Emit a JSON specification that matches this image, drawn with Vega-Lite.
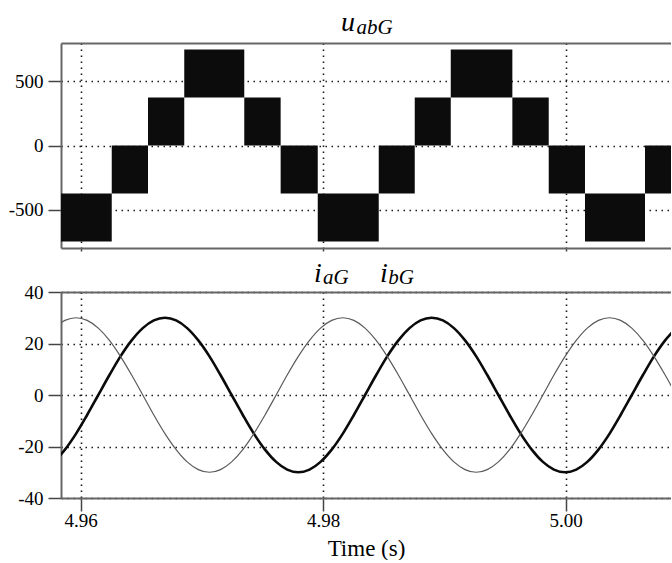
{
  "$schema": "https://vega.github.io/schema/vega-lite/v6.json",
  "padding": {"left": 8, "top": 9, "right": 0, "bottom": 0},
  "background": "white",
  "bounds": "flush",
  "spacing": 44,
  "config": {
    "view": {"stroke": null},
    "axis": {
      "domainColor": "#666666",
      "domainWidth": 2,
      "tickColor": "#444444",
      "tickWidth": 1.5,
      "gridColor": "#1a1a1a",
      "gridDash": [1.5, 4.5],
      "gridWidth": 1.6,
      "gridOpacity": 1,
      "labelFont": "Liberation Serif",
      "labelFontSize": 19,
      "labelColor": "#000000",
      "titleFont": "Liberation Serif",
      "titleFontWeight": "normal",
      "titleColor": "#000000"
    }
  },
  "vconcat": [
    {
      "width": 610,
      "height": 205,
      "resolve": {"axis": {"x": "independent", "y": "independent"}},
      "layer": [
        {
          "data": {"values": [
            {"t0": 4.958375, "t1": 4.96256, "lo": -750, "hi": -375},
            {"t0": 4.96256, "t1": 4.96555, "lo": -375, "hi": 0},
            {"t0": 4.96555, "t1": 4.96854, "lo": 0, "hi": 375},
            {"t0": 4.96854, "t1": 4.97349, "lo": 375, "hi": 750},
            {"t0": 4.97349, "t1": 4.97649, "lo": 0, "hi": 375},
            {"t0": 4.97649, "t1": 4.97955, "lo": -375, "hi": 0},
            {"t0": 4.97955, "t1": 4.98458, "lo": -750, "hi": -375},
            {"t0": 4.98458, "t1": 4.98755, "lo": -375, "hi": 0},
            {"t0": 4.98755, "t1": 4.99052, "lo": 0, "hi": 375},
            {"t0": 4.99052, "t1": 4.9956, "lo": 375, "hi": 750},
            {"t0": 4.9956, "t1": 4.9986, "lo": 0, "hi": 375},
            {"t0": 4.9986, "t1": 5.00159, "lo": -375, "hi": 0},
            {"t0": 5.00159, "t1": 5.00654, "lo": -750, "hi": -375},
            {"t0": 5.00654, "t1": 5.008684, "lo": -375, "hi": 0}
          ]},
          "mark": {"type": "rect", "color": "#0c0c0c", "clip": true},
          "encoding": {
            "x": {"field": "t0", "type": "quantitative",
              "scale": {"domain": [4.958375, 5.008684], "nice": false, "zero": false},
              "axis": {"orient": "bottom", "values": [4.96, 4.98, 5.0], "labels": false, "ticks": true, "tickSize": 3, "grid": true, "domain": true, "title": null}},
            "x2": {"field": "t1"},
            "y": {"field": "lo", "type": "quantitative",
              "scale": {"domain": [-800, 800], "nice": false, "zero": false},
              "axis": {"orient": "left", "values": [-500, 0, 500], "tickSize": 13, "labelPadding": 5, "grid": true, "domain": true, "title": null,
                "labelExpr": "datum.value < 0 ? '-' + abs(datum.value) : '' + datum.value"}},
            "y2": {"field": "hi"}
          }
        },
        {
          "data": {"values": [{"t": 4.98147, "v": 800, "label": "u"}]},
          "mark": {"type": "text", "font": "Liberation Serif", "fontStyle": "italic", "fontSize": 28, "align": "left", "baseline": "alphabetic", "dy": -12, "color": "#000000"},
          "encoding": {
            "x": {"field": "t", "type": "quantitative",
              "axis": {"orient": "top", "labels": false, "ticks": false, "grid": false, "domain": true, "title": null}},
            "y": {"field": "v", "type": "quantitative", "axis": null},
            "text": {"field": "label"}
          }
        },
        {
          "data": {"values": [{"t": 4.98275, "v": 800, "label": "abG"}]},
          "mark": {"type": "text", "font": "Liberation Serif", "fontStyle": "italic", "fontSize": 21, "align": "left", "baseline": "alphabetic", "dy": -9, "color": "#000000"},
          "encoding": {
            "x": {"field": "t", "type": "quantitative", "axis": null},
            "y": {"field": "v", "type": "quantitative", "axis": null},
            "text": {"field": "label"}
          }
        }
      ]
    },
    {
      "width": 610,
      "height": 206,
      "resolve": {"axis": {"x": "independent", "y": "independent"}},
      "layer": [
        {
          "data": {"values": [
            {"t": 4.95778, "s": "iaG", "v": -25.98}, {"t": 4.95778, "s": "ibG", "v": 25.98},
            {"t": 4.9587, "s": "iaG", "v": -21.21}, {"t": 4.9587, "s": "ibG", "v": 28.98},
            {"t": 4.95962, "s": "iaG", "v": -15}, {"t": 4.95962, "s": "ibG", "v": 30},
            {"t": 4.96053, "s": "iaG", "v": -7.76}, {"t": 4.96053, "s": "ibG", "v": 28.98},
            {"t": 4.96145, "s": "iaG", "v": 0}, {"t": 4.96145, "s": "ibG", "v": 25.98},
            {"t": 4.96237, "s": "iaG", "v": 7.76}, {"t": 4.96237, "s": "ibG", "v": 21.21},
            {"t": 4.96328, "s": "iaG", "v": 15}, {"t": 4.96328, "s": "ibG", "v": 15},
            {"t": 4.9642, "s": "iaG", "v": 21.21}, {"t": 4.9642, "s": "ibG", "v": 7.76},
            {"t": 4.96512, "s": "iaG", "v": 25.98}, {"t": 4.96512, "s": "ibG", "v": 0},
            {"t": 4.96603, "s": "iaG", "v": 28.98}, {"t": 4.96603, "s": "ibG", "v": -7.76},
            {"t": 4.96695, "s": "iaG", "v": 30}, {"t": 4.96695, "s": "ibG", "v": -15},
            {"t": 4.96787, "s": "iaG", "v": 28.98}, {"t": 4.96787, "s": "ibG", "v": -21.21},
            {"t": 4.96878, "s": "iaG", "v": 25.98}, {"t": 4.96878, "s": "ibG", "v": -25.98},
            {"t": 4.9697, "s": "iaG", "v": 21.21}, {"t": 4.9697, "s": "ibG", "v": -28.98},
            {"t": 4.97062, "s": "iaG", "v": 15}, {"t": 4.97062, "s": "ibG", "v": -30},
            {"t": 4.97153, "s": "iaG", "v": 7.76}, {"t": 4.97153, "s": "ibG", "v": -28.98},
            {"t": 4.97245, "s": "iaG", "v": 0}, {"t": 4.97245, "s": "ibG", "v": -25.98},
            {"t": 4.97337, "s": "iaG", "v": -7.76}, {"t": 4.97337, "s": "ibG", "v": -21.21},
            {"t": 4.97428, "s": "iaG", "v": -15}, {"t": 4.97428, "s": "ibG", "v": -15},
            {"t": 4.9752, "s": "iaG", "v": -21.21}, {"t": 4.9752, "s": "ibG", "v": -7.76},
            {"t": 4.97612, "s": "iaG", "v": -25.98}, {"t": 4.97612, "s": "ibG", "v": 0},
            {"t": 4.97703, "s": "iaG", "v": -28.98}, {"t": 4.97703, "s": "ibG", "v": 7.76},
            {"t": 4.97795, "s": "iaG", "v": -30}, {"t": 4.97795, "s": "ibG", "v": 15},
            {"t": 4.97887, "s": "iaG", "v": -28.98}, {"t": 4.97887, "s": "ibG", "v": 21.21},
            {"t": 4.97978, "s": "iaG", "v": -25.98}, {"t": 4.97978, "s": "ibG", "v": 25.98},
            {"t": 4.9807, "s": "iaG", "v": -21.21}, {"t": 4.9807, "s": "ibG", "v": 28.98},
            {"t": 4.98162, "s": "iaG", "v": -15}, {"t": 4.98162, "s": "ibG", "v": 30},
            {"t": 4.98253, "s": "iaG", "v": -7.76}, {"t": 4.98253, "s": "ibG", "v": 28.98},
            {"t": 4.98345, "s": "iaG", "v": 0}, {"t": 4.98345, "s": "ibG", "v": 25.98},
            {"t": 4.98437, "s": "iaG", "v": 7.76}, {"t": 4.98437, "s": "ibG", "v": 21.21},
            {"t": 4.98528, "s": "iaG", "v": 15}, {"t": 4.98528, "s": "ibG", "v": 15},
            {"t": 4.9862, "s": "iaG", "v": 21.21}, {"t": 4.9862, "s": "ibG", "v": 7.76},
            {"t": 4.98712, "s": "iaG", "v": 25.98}, {"t": 4.98712, "s": "ibG", "v": 0},
            {"t": 4.98803, "s": "iaG", "v": 28.98}, {"t": 4.98803, "s": "ibG", "v": -7.76},
            {"t": 4.98895, "s": "iaG", "v": 30}, {"t": 4.98895, "s": "ibG", "v": -15},
            {"t": 4.98987, "s": "iaG", "v": 28.98}, {"t": 4.98987, "s": "ibG", "v": -21.21},
            {"t": 4.99078, "s": "iaG", "v": 25.98}, {"t": 4.99078, "s": "ibG", "v": -25.98},
            {"t": 4.9917, "s": "iaG", "v": 21.21}, {"t": 4.9917, "s": "ibG", "v": -28.98},
            {"t": 4.99262, "s": "iaG", "v": 15}, {"t": 4.99262, "s": "ibG", "v": -30},
            {"t": 4.99353, "s": "iaG", "v": 7.76}, {"t": 4.99353, "s": "ibG", "v": -28.98},
            {"t": 4.99445, "s": "iaG", "v": 0}, {"t": 4.99445, "s": "ibG", "v": -25.98},
            {"t": 4.99537, "s": "iaG", "v": -7.76}, {"t": 4.99537, "s": "ibG", "v": -21.21},
            {"t": 4.99628, "s": "iaG", "v": -15}, {"t": 4.99628, "s": "ibG", "v": -15},
            {"t": 4.9972, "s": "iaG", "v": -21.21}, {"t": 4.9972, "s": "ibG", "v": -7.76},
            {"t": 4.99812, "s": "iaG", "v": -25.98}, {"t": 4.99812, "s": "ibG", "v": 0},
            {"t": 4.99903, "s": "iaG", "v": -28.98}, {"t": 4.99903, "s": "ibG", "v": 7.76},
            {"t": 4.99995, "s": "iaG", "v": -30}, {"t": 4.99995, "s": "ibG", "v": 15},
            {"t": 5.00087, "s": "iaG", "v": -28.98}, {"t": 5.00087, "s": "ibG", "v": 21.21},
            {"t": 5.00178, "s": "iaG", "v": -25.98}, {"t": 5.00178, "s": "ibG", "v": 25.98},
            {"t": 5.0027, "s": "iaG", "v": -21.21}, {"t": 5.0027, "s": "ibG", "v": 28.98},
            {"t": 5.00362, "s": "iaG", "v": -15}, {"t": 5.00362, "s": "ibG", "v": 30},
            {"t": 5.00453, "s": "iaG", "v": -7.76}, {"t": 5.00453, "s": "ibG", "v": 28.98},
            {"t": 5.00545, "s": "iaG", "v": 0}, {"t": 5.00545, "s": "ibG", "v": 25.98},
            {"t": 5.00637, "s": "iaG", "v": 7.76}, {"t": 5.00637, "s": "ibG", "v": 21.21},
            {"t": 5.00728, "s": "iaG", "v": 15}, {"t": 5.00728, "s": "ibG", "v": 15},
            {"t": 5.0082, "s": "iaG", "v": 21.21}, {"t": 5.0082, "s": "ibG", "v": 7.76},
            {"t": 5.00912, "s": "iaG", "v": 25.98}, {"t": 5.00912, "s": "ibG", "v": 0}
          ]},
          "mark": {"type": "line", "interpolate": "monotone", "clip": true},
          "encoding": {
            "x": {"field": "t", "type": "quantitative",
              "scale": {"domain": [4.958375, 5.008684], "nice": false, "zero": false},
              "axis": {"orient": "bottom", "values": [4.96, 4.98, 5.0], "format": ".2f", "tickSize": 13, "labelPadding": 0, "grid": true, "domain": true,
                "title": "Time (s)", "titleFontSize": 23, "titlePadding": 7}},
            "y": {"field": "v", "type": "quantitative",
              "scale": {"domain": [-40, 40], "nice": false, "zero": false},
              "axis": {"orient": "left", "values": [-40, -20, 0, 20, 40], "tickSize": 13, "labelPadding": 5, "grid": true, "domain": true, "title": null,
                "labelExpr": "datum.value < 0 ? '-' + abs(datum.value) : '' + datum.value"}},
            "color": {"field": "s", "type": "nominal", "scale": {"domain": ["iaG", "ibG"], "range": ["#0a0a0a", "#5a5a5a"]}, "legend": null},
            "strokeWidth": {"field": "s", "type": "nominal", "scale": {"domain": ["iaG", "ibG"], "range": [2.6, 1.2]}, "legend": null}
          }
        },
        {
          "data": {"values": [{"t": 4.97924, "v": 40, "label": "i"}, {"t": 4.98468, "v": 40, "label": "i"}]},
          "mark": {"type": "text", "font": "Liberation Serif", "fontStyle": "italic", "fontSize": 28, "align": "left", "baseline": "alphabetic", "dy": -10, "color": "#000000"},
          "encoding": {
            "x": {"field": "t", "type": "quantitative",
              "axis": {"orient": "top", "labels": false, "ticks": false, "grid": false, "domain": true, "title": null}},
            "y": {"field": "v", "type": "quantitative", "axis": null},
            "text": {"field": "label"}
          }
        },
        {
          "data": {"values": [{"t": 4.97998, "v": 40, "label": "aG"}, {"t": 4.98537, "v": 40, "label": "bG"}]},
          "mark": {"type": "text", "font": "Liberation Serif", "fontStyle": "italic", "fontSize": 21, "align": "left", "baseline": "alphabetic", "dy": -8, "color": "#000000"},
          "encoding": {
            "x": {"field": "t", "type": "quantitative", "axis": null},
            "y": {"field": "v", "type": "quantitative", "axis": null},
            "text": {"field": "label"}
          }
        }
      ]
    }
  ]
}
